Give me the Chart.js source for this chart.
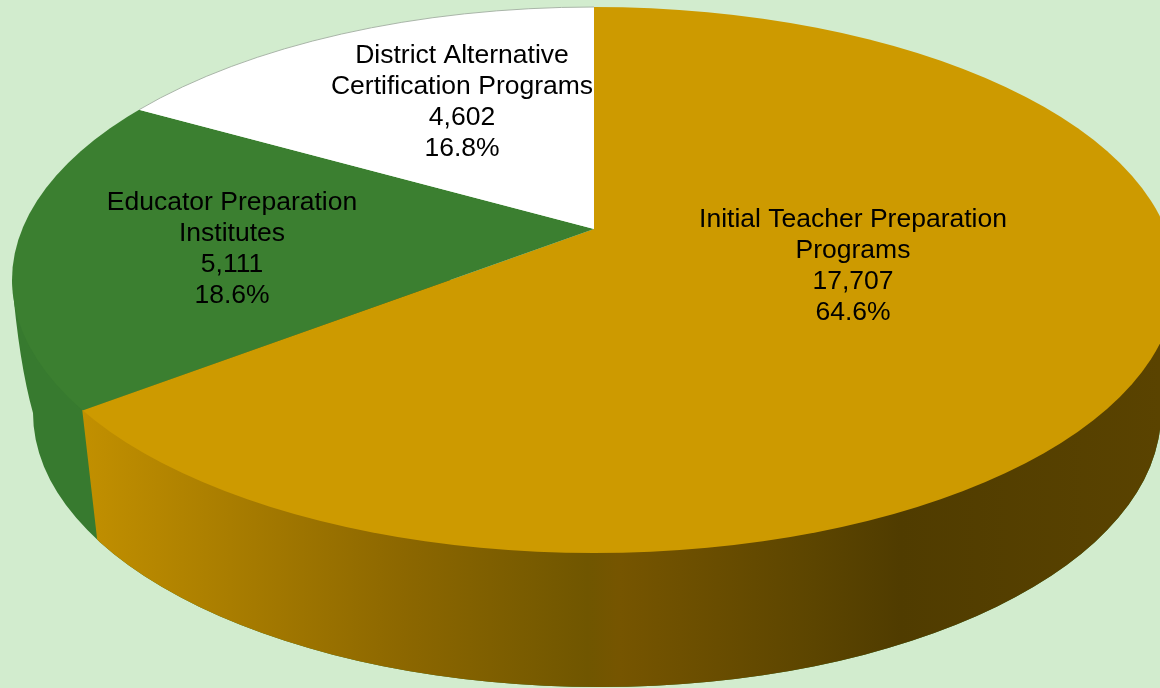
<!DOCTYPE html>
<html>
<head>
<meta charset="utf-8">
<title>Teacher preparation completers by program type</title>
<script src="https://cdn.jsdelivr.net/npm/chart.js@4"></script>
<style>
  html, body { margin: 0; padding: 0; background: #d2ecce; overflow: hidden; }
  canvas { display: block; }
</style>
</head>
<body>
<canvas id="pieChart" width="1160" height="688"></canvas>
<script>
var categories = [
  ['Initial Teacher Preparation', 'Programs'],
  ['Educator Preparation', 'Institutes'],
  ['District Alternative', 'Certification Programs']
];
var completers = [17707, 5111, 4602];
var sliceColors = ['#cd9a00', '#3b7f30', '#ffffff'];

// tilted disc: rim of the top face and where the slices meet
var top3d = { cx: 594, cy: 280, rx: 582, ry: 273, apexX: 594, apexY: 229, tilt: 0.462 };
// lower edge of the wall, slightly narrower on the right
var base3d = { cx: 600, cy: 413, rxLeft: 567, rxRight: 561, ry: 274 };
var labelSpots = [
  { x: 853, y: 220 },
  { x: 232, y: 203 },
  { x: 462, y: 56 }
];
var lineHeight = 31;

function rimPoint(angle) {
  // where a spoke leaving the apex crosses the top ellipse
  var t = top3d;
  var dx = Math.cos(angle) / t.rx, dy = t.tilt * Math.sin(angle) / t.ry;
  var ox = (t.apexX - t.cx) / t.rx, oy = (t.apexY - t.cy) / t.ry;
  var a = dx * dx + dy * dy, b = 2 * (ox * dx + oy * dy), c = ox * ox + oy * oy - 1;
  var r = (-b + Math.sqrt(b * b - 4 * a * c)) / (2 * a);
  return { x: t.apexX + r * Math.cos(angle), y: t.apexY + r * t.tilt * Math.sin(angle) };
}

function wallPath(ctx) {
  var b = base3d;
  ctx.beginPath();
  ctx.moveTo(top3d.cx - top3d.rx, top3d.cy);
  ctx.quadraticCurveTo(b.cx - b.rxLeft - 14, b.cy - 50, b.cx - b.rxLeft, b.cy);
  ctx.ellipse(b.cx, b.cy, b.rxLeft, b.ry, 0, Math.PI, Math.PI / 2, true);
  ctx.ellipse(b.cx, b.cy, b.rxRight, b.ry, 0, Math.PI / 2, 0, true);
  ctx.lineTo(top3d.cx + top3d.rx, top3d.cy);
  ctx.closePath();
}

var disc3d = {
  id: 'disc3d',
  beforeDatasetsDraw: function(chart) {
    var ctx = chart.ctx;
    var arcs = chart.getDatasetMeta(0).data;
    var seam = rimPoint(arcs[0].endAngle);

    var wallFill = ctx.createLinearGradient(80, 0, 1160, 0);
    wallFill.addColorStop(0, '#c29000');
    wallFill.addColorStop(0.3, '#8c6700');
    wallFill.addColorStop(0.47, '#705600');
    wallFill.addColorStop(0.5, '#765500');
    wallFill.addColorStop(0.68, '#5c4500');
    wallFill.addColorStop(0.76, '#503c00');
    wallFill.addColorStop(1, '#5a4300');

    ctx.save();
    wallPath(ctx);
    ctx.fillStyle = '#377a2f';
    ctx.fill();
    ctx.clip();
    // gold wall starts at the seam under the green/gold spoke
    ctx.beginPath();
    ctx.moveTo(seam.x - 5, 0);
    ctx.lineTo(seam.x - 5, seam.y - 40);
    ctx.lineTo(seam.x + 14, seam.y + 125);
    ctx.lineTo(seam.x + 30, 700);
    ctx.lineTo(1200, 700);
    ctx.lineTo(1200, 0);
    ctx.closePath();
    ctx.fillStyle = wallFill;
    ctx.fill();
    ctx.restore();

    // the pie itself is drawn squashed and cut to the rim
    ctx.save();
    ctx.beginPath();
    ctx.ellipse(top3d.cx, top3d.cy, top3d.rx, top3d.ry, 0, 0, Math.PI * 2);
    ctx.clip();
    ctx.translate(top3d.apexX, top3d.apexY);
    ctx.scale(1, top3d.tilt);
    ctx.translate(-arcs[0].x, -arcs[0].y);
  },
  afterDatasetsDraw: function(chart) {
    var ctx = chart.ctx;
    ctx.restore();

    // thin outline along the white slice
    var white = chart.getDatasetMeta(0).data[2];
    var p = rimPoint(white.startAngle);
    var from = Math.atan2((p.y - top3d.cy) / top3d.ry, (p.x - top3d.cx) / top3d.rx);
    ctx.beginPath();
    ctx.ellipse(top3d.cx, top3d.cy, top3d.rx, top3d.ry, 0, from, -Math.PI / 2);
    ctx.strokeStyle = '#a9b5a8';
    ctx.lineWidth = 1;
    ctx.stroke();
  },
  afterDraw: function(chart) {
    var ctx = chart.ctx;
    var total = completers.reduce(function(a, b) { return a + b; }, 0);
    ctx.save();
    ctx.fillStyle = '#000000';
    ctx.font = '26.5px "Liberation Sans", Arial, sans-serif';
    ctx.textAlign = 'center';
    ctx.textBaseline = 'middle';
    categories.forEach(function(name, i) {
      var lines = name.concat([
        completers[i].toLocaleString('en-US'),
        (completers[i] / total * 100).toFixed(1) + '%'
      ]);
      lines.forEach(function(line, j) {
        ctx.fillText(line, labelSpots[i].x, labelSpots[i].y + j * lineHeight);
      });
    });
    ctx.restore();
  }
};

new Chart(document.getElementById('pieChart').getContext('2d'), {
  type: 'pie',
  data: {
    labels: categories.map(function(c) { return c.join(' '); }),
    datasets: [{
      data: completers,
      backgroundColor: sliceColors,
      borderWidth: 0,
      clip: false
    }]
  },
  options: {
    responsive: false,
    animation: false,
    radius: 800,
    layout: { padding: 0 },
    plugins: {
      legend: { display: false },
      tooltip: { enabled: false }
    }
  },
  plugins: [disc3d]
});
</script>
</body>
</html>
